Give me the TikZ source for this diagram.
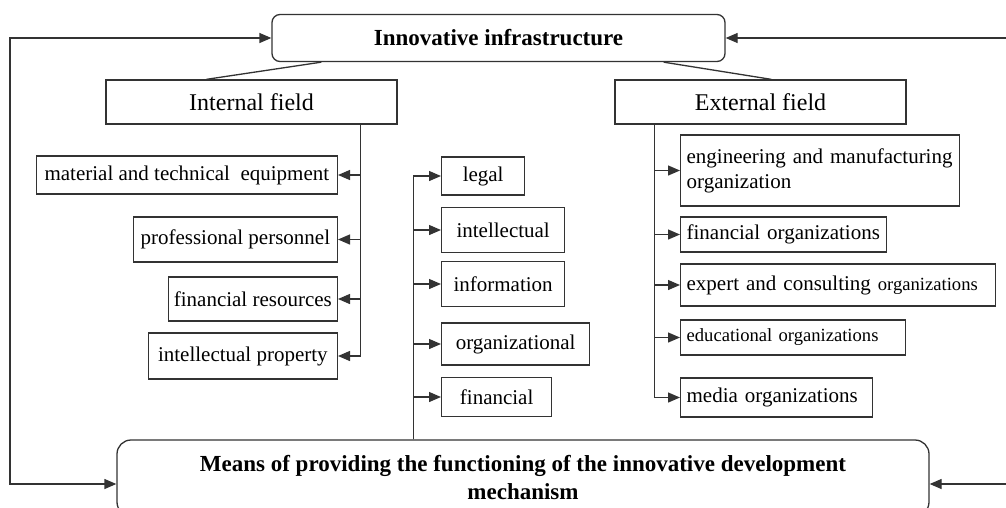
\documentclass[tikz,border=0pt]{standalone}
\usepackage{fontspec}
\setmainfont{Liberation Serif}
\usetikzlibrary{arrows.meta}
\tikzset{
    infobox/.style={
      rectangle,
      draw=black!80, line width=1.3pt,
      inner sep=2pt,
      text centered,
      font=\fontsize{21}{25}\selectfont,
    },
    mainbox/.style={
      infobox,
      rounded corners=8pt,
      font=\bfseries\fontsize{23}{28}\selectfont,
    },
    fieldbox/.style={
      infobox,
      minimum width=291pt, minimum height=44pt,
      font=\fontsize{24}{28}\selectfont,
    },
    resbox/.style={
      infobox,
      anchor=east,
    },
    orgbox/.style={
      infobox,
      anchor=west,
      inner xsep=6pt,
      align=left,
    },
}

\begin{document}
\begin{tikzpicture}[->,>={Triangle[length=12pt,width=10pt]},x=1pt,y=-1pt,line width=1.3pt,draw=black!80]

    \useasboundingbox (0,0) rectangle (1006,507);
    \clip (0,0) rectangle (1006,507);

    \node[mainbox, minimum width=453pt, minimum height=47pt] (infra) at (498.5,38)
    {Innovative infrastructure};

    \node[mainbox, minimum width=812pt, minimum height=76pt, rounded corners=14pt, align=center] (means) at (523,478)
    {Means of providing the functioning of the innovative development\\mechanism};

    \node[fieldbox] (internal) at (251.5,102) {Internal field};
    \node[fieldbox] (external) at (760.5,102) {External field};

    % internal field
    \node[resbox, minimum width=301pt, minimum height=38pt] (equip) at (338,175)
    {material and technical\ \ equipment};
    \node[resbox, minimum width=204pt, minimum height=45pt] (staff) at (338,239.5)
    {professional personnel};
    \node[resbox, minimum width=169pt, minimum height=44pt] (fres) at (338,299)
    {financial resources};
    \node[resbox, minimum width=189pt, minimum height=46pt] (iprop) at (338,356)
    {intellectual property};

    % means
    \node[infobox, anchor=west, minimum width=83pt, minimum height=38pt] (legal) at (441,176) {legal};
    \node[infobox, anchor=west, minimum width=123pt, minimum height=45pt] (intel) at (441,230) {intellectual};
    \node[infobox, anchor=west, minimum width=123pt, minimum height=45pt] (info) at (441,284) {information};
    \node[infobox, anchor=west, minimum width=148pt, minimum height=42pt] (organiz) at (441,344) {organizational};
    \node[infobox, anchor=west, minimum width=110pt, minimum height=39pt] (finance) at (441,397) {financial};

    % external field
    \node[orgbox, text width=267pt, minimum height=71pt] (eng) at (680,170.5)
    {engineering and manufacturing\\organization};
    \node[orgbox, text width=194pt, minimum height=35pt] (forg) at (680,234.5)
    {financial organizations};
    \node[orgbox, text width=303pt, minimum height=42pt] (expert) at (680,285)
    {expert and consulting {\fontsize{18.6}{22}\selectfont organizations}};
    \node[orgbox, text width=213pt, minimum height=35pt, font=\fontsize{18.6}{22}\selectfont] (edu) at (680,337.5)
    {educational organizations};
    \node[orgbox, text width=180pt, minimum height=39pt] (media) at (680,397.5)
    {media organizations};

    \coordinate (ltop) at (10,38);
    \coordinate (lbot) at (10,484);
    \coordinate (rtop) at (1006,38);
    \coordinate (rbot) at (1006,484);

    \draw[-] ([xshift=50pt]infra.south west) -- ([xshift=101pt]internal.north west);
    \draw[-] ([xshift=-62pt]infra.south east) -- ([xshift=157pt]external.north west);

    \foreach \n in {equip,staff,fres,iprop}
      \draw ([xshift=-37pt]internal.south east) |- (\n);
    \foreach \n in {legal,intel,info,organiz,finance}
      \draw ([xshift=297pt]means.north west) |- (\n);
    \foreach \n in {eng,forg,expert,edu,media}
      \draw ([xshift=40pt]external.south west) |- (\n);

    \draw[<->] (infra.west) -- (ltop) -- (lbot) -- (lbot -| means.west);
    \draw (rtop) -- (infra.east);
    \draw (rbot) -- (rbot -| means.east);

\end{tikzpicture}
\end{document}
